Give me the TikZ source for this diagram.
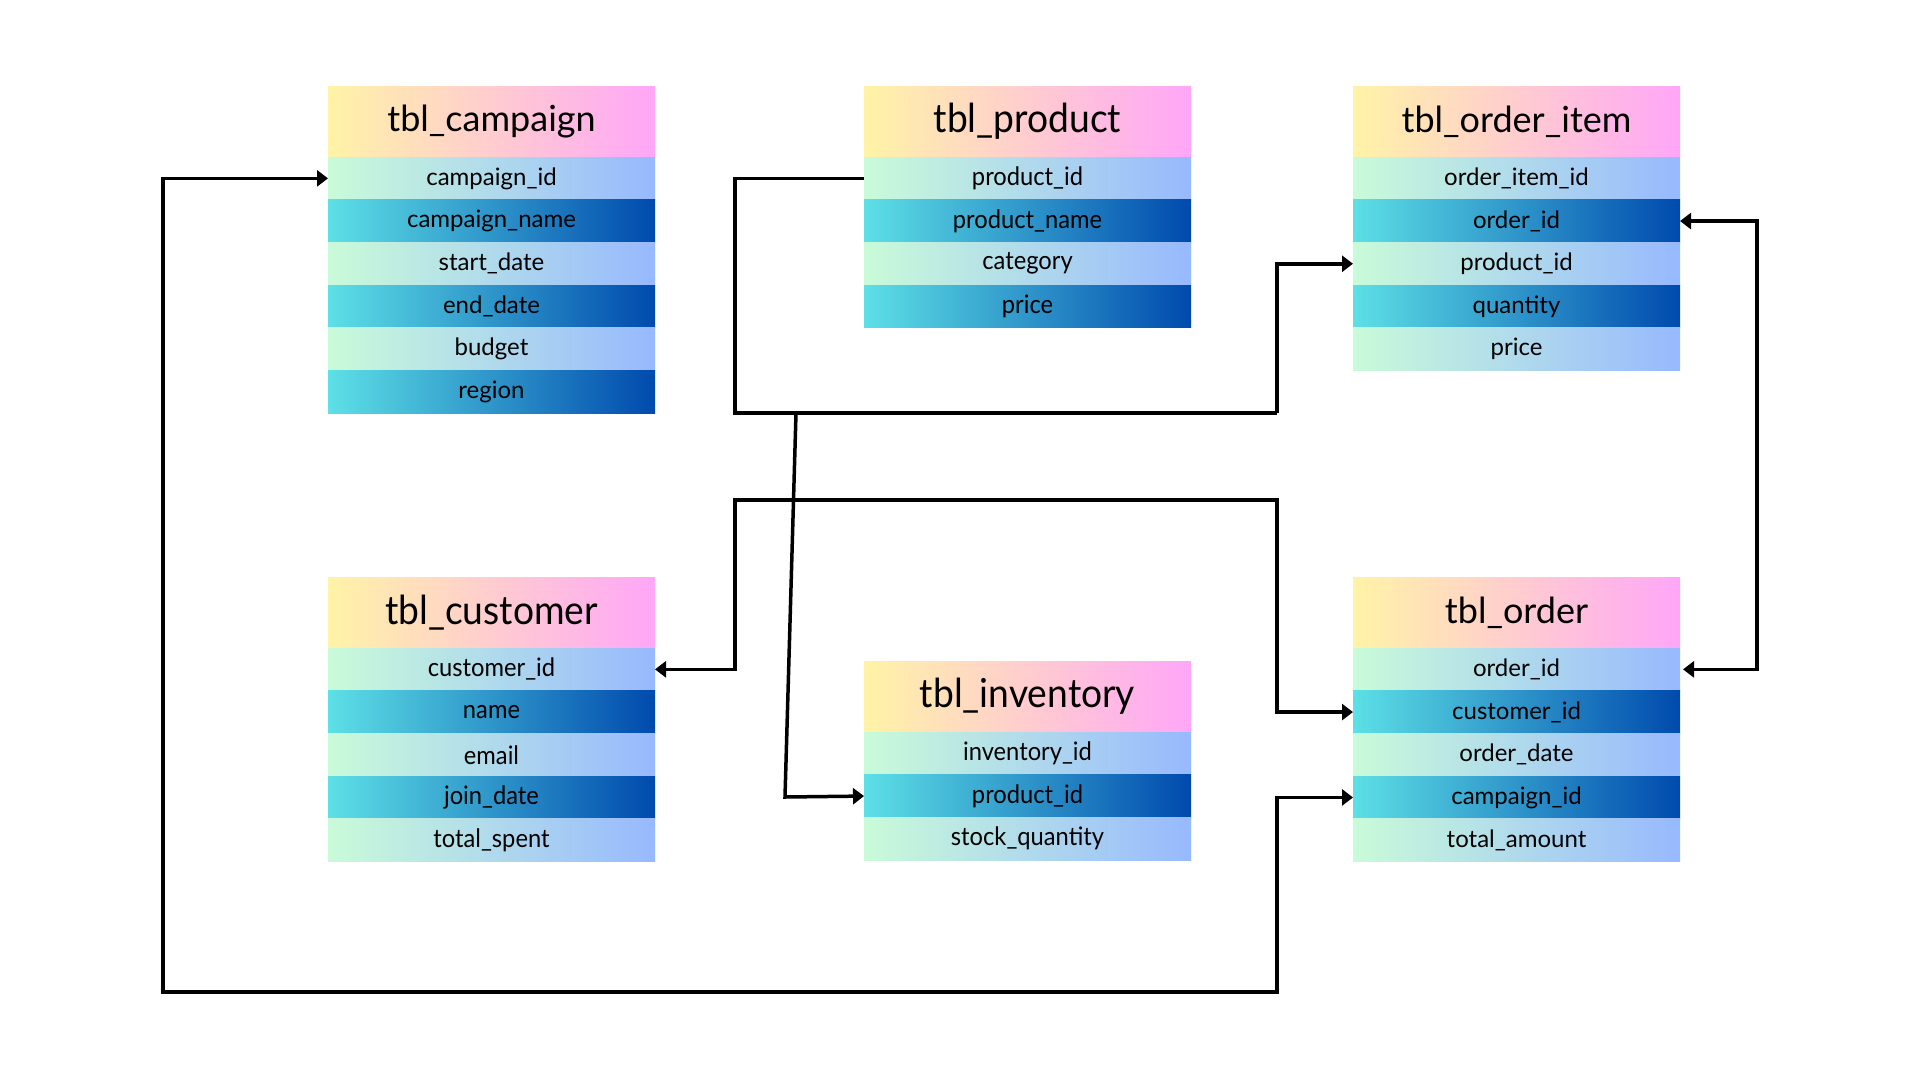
\documentclass[tikz,border=0pt]{standalone}
\usepackage{fontspec}
\setmainfont{Lato}
\newfontfamily\narrowfont[FakeStretch=0.93]{Lato}
\usetikzlibrary{arrows.meta, positioning}
\definecolor{hdrYellow}{HTML}{FFF3A6}
\definecolor{hdrPink}{HTML}{FFA6F8}
\definecolor{rowMint}{HTML}{C9FBD9}
\definecolor{rowSky}{HTML}{97B9FE}
\definecolor{rowCyan}{HTML}{5DE0E6}
\definecolor{rowNavy}{HTML}{004AAD}

\tikzset{
  tblhead/.style={left color=hdrYellow, right color=hdrPink, minimum width=327pt,
    minimum height=71pt, inner sep=0pt, outer sep=0pt, anchor=north west,
    font=\fontsize{36}{40}\selectfont},
  rowlight/.style={left color=rowMint, right color=rowSky, minimum width=327pt,
    minimum height=42.7pt, inner sep=0pt, outer sep=0pt,
    font=\fontsize{24}{28}\selectfont},
  rowdark/.style={rowlight, left color=rowCyan, right color=rowNavy},
  narrowhead/.style={font=\narrowfont\fontsize{40}{44}\selectfont},
  narrowrow/.style={font=\narrowfont\fontsize{25.5}{28}\selectfont},
  link/.style={line width=3.5pt, black,
    arrows={-Triangle[length=11pt, width=16pt]}},
}

\begin{document}
\begin{tikzpicture}[x=1pt, y=-1pt, node distance=0pt]
  \fill[white] (0,0) rectangle (1920,1080);
  \useasboundingbox (0,0) rectangle (1920,1080);

  % tbl_campaign
  \node[tblhead] (cmp) at (328,86) {tbl\_campaign};
  \node[rowlight, below=of cmp] (cmp-id) {campaign\_id};
  \node[rowdark, below=of cmp-id] (cmp-name) {campaign\_name};
  \node[rowlight, below=of cmp-name] (cmp-start) {start\_date};
  \node[rowdark, below=of cmp-start] (cmp-end) {end\_date};
  \node[rowlight, below=of cmp-end] (cmp-budget) {budget};
  \node[rowdark, below=of cmp-budget] (cmp-region) {region};

  % tbl_product
  \node[tblhead, narrowhead] (prd) at (864,86) {tbl\_product};
  \node[rowlight, narrowrow, below=of prd] (prd-id) {product\_id};
  \node[rowdark, narrowrow, below=of prd-id] (prd-name) {product\_name};
  \node[rowlight, narrowrow, below=of prd-name] (prd-cat) {category};
  \node[rowdark, narrowrow, below=of prd-cat] (prd-price) {price};

  % tbl_order_item
  \node[tblhead] (oi) at (1353,86) {tbl\_order\_item};
  \node[rowlight, below=of oi] (oi-id) {order\_item\_id};
  \node[rowdark, below=of oi-id] (oi-order) {order\_id};
  \node[rowlight, below=of oi-order] (oi-prod) {product\_id};
  \node[rowdark, below=of oi-prod] (oi-qty) {quantity};
  \node[rowlight, below=of oi-qty] (oi-price) {price};

  % tbl_customer
  \node[tblhead, narrowhead] (cst) at (328,577) {tbl\_customer};
  \node[rowlight, narrowrow, below=of cst] (cst-id) {customer\_id};
  \node[rowdark, narrowrow, below=of cst-id] (cst-name) {name};
  \node[rowlight, narrowrow, below=of cst-name] (cst-mail) {email};
  \node[rowdark, narrowrow, below=of cst-mail] (cst-join) {join\_date};
  \node[rowlight, narrowrow, below=of cst-join] (cst-spent) {total\_spent};

  % tbl_inventory
  \node[tblhead, narrowhead] (inv) at (864,661) {tbl\_inventory};
  \node[rowlight, narrowrow, below=of inv] (inv-id) {inventory\_id};
  \node[rowdark, narrowrow, below=of inv-id] (inv-prod) {product\_id};
  \node[rowlight, narrowrow, below=of inv-prod] (inv-stock) {stock\_quantity};

  % tbl_order
  \node[tblhead] (ord) at (1353,577) {tbl\_order};
  \node[rowlight, below=of ord] (ord-id) {order\_id};
  \node[rowdark, below=of ord-id] (ord-cust) {customer\_id};
  \node[rowlight, below=of ord-cust] (ord-date) {order\_date};
  \node[rowdark, below=of ord-date] (ord-camp) {campaign\_id};
  \node[rowlight, below=of ord-camp] (ord-total) {total\_amount};

  % routing points
  \coordinate (laneP) at (1277,413);
  \coordinate (forkP) at (796,413);
  \coordinate (bendI) at (785,797);
  \coordinate (laneC) at (735,500);
  \coordinate (laneK) at (163,992);

  % relations
  \draw[link, arrows={-}] (prd-id.west) -- ++(-129,0) |- (laneP);
  \draw[link] (laneP) |- (oi-prod.west);
  \draw[link] (forkP) -- (bendI) -- (inv-prod.west);
  \draw[link, arrows={Triangle[length=11pt, width=16pt]-Triangle[length=11pt, width=16pt]}]
    (cst-id.east) -| (laneC) -| ([xshift=-76pt]ord-cust.west) -- (ord-cust.west);
  \draw[link, arrows={Triangle[length=11pt, width=16pt]-Triangle[length=11pt, width=16pt]}]
    (oi-order.east) -- ++(77,0) |- ([xshift=3pt]ord-id.east);
  \draw[link, arrows={Triangle[length=11pt, width=16pt]-Triangle[length=11pt, width=16pt]}]
    (cmp-id.west) -| (laneK) -| ([xshift=-76pt]ord-camp.west) -- (ord-camp.west);
\end{tikzpicture}
\end{document}
